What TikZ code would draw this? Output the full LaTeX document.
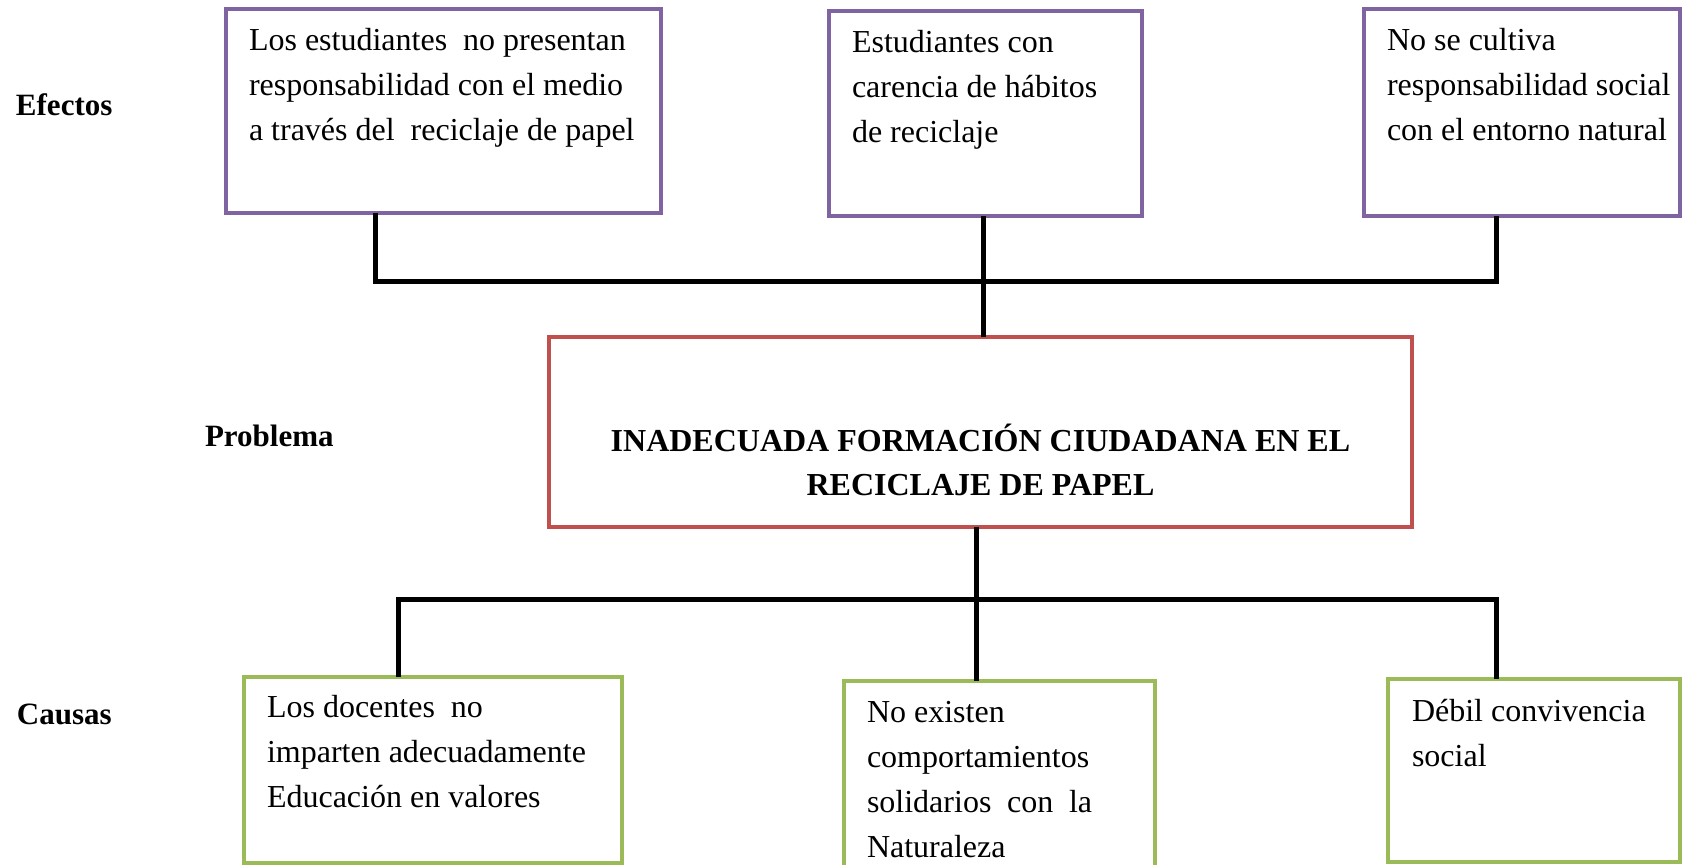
\documentclass[tikz,border=0pt]{standalone}
\usepackage{fontspec}
\setmainfont{Liberation Serif}
\definecolor{effpurple}{HTML}{8064A2}
\definecolor{probred}{HTML}{C0504D}
\definecolor{causegreen}{HTML}{9BBB59}
\newcommand{\btext}[2]{\parbox[t]{#1}{\raggedright #2}}
\begin{document}
\begin{tikzpicture}[x=0.5pt,y=-0.5pt,
  boxbase/.style={rectangle, line width=2pt, inner sep=0pt, outer sep=0pt, anchor=north west},
  effbox/.style={boxbase, draw=effpurple},
  probbox/.style={boxbase, draw=probred},
  causebox/.style={boxbase, draw=causegreen},
  boxtext/.style={anchor=base west, inner sep=0pt, outer sep=0pt, font=\fontsize{16}{22.5}\selectfont},
  probtext/.style={anchor=base, inner sep=0pt, outer sep=0pt, font=\fontsize{16}{22}\selectfont\bfseries},
  sidelabel/.style={anchor=base west, inner sep=0pt, outer sep=0pt, font=\fontsize{15.5}{18}\selectfont\bfseries},
  conn/.style={line width=2.5pt, black, line join=miter}
]
\useasboundingbox (0,0) rectangle (1682,865);

% boxes
\node[effbox, minimum width=217.5pt, minimum height=102pt] (b1) at (226,9) {};
\node[effbox, minimum width=156.5pt, minimum height=102.5pt] (b2) at (829,11) {};
\node[effbox, minimum width=158pt, minimum height=103.5pt] (b3) at (1364,9) {};
\node[probbox, minimum width=431.5pt, minimum height=95pt] (prob) at (549,337) {};
\node[causebox, minimum width=189pt, minimum height=93pt] (c1) at (244,677) {};
\node[causebox, minimum width=155.5pt, minimum height=96pt] (c2) at (844,681) {};
\node[causebox, minimum width=146pt, minimum height=91.5pt] (c3) at (1388,679) {};

% texts
\node[boxtext] (tb1) at (249,51) {\btext{205pt}{Los estudiantes\ \ no presentan\\responsabilidad con el medio\\a través del\ \ reciclaje de papel}};
\node[boxtext] (tb2) at (852,53) {\btext{140pt}{Estudiantes con\\carencia de hábitos\\de reciclaje}};
\node[boxtext] (tb3) at (1387,51) {\btext{146pt}{No se cultiva\\responsabilidad social\\con el entorno natural}};
\node[probtext] (tp) at (980.5,452) {\parbox[t]{420pt}{\centering INADECUADA FORMACIÓN CIUDADANA EN EL\\RECICLAJE DE PAPEL}};
\node[boxtext] (tc1) at (267,718) {\btext{175pt}{Los docentes\ \ no\\imparten adecuadamente\\Educación en valores}};
\node[boxtext] (tc2) at (867,723) {\btext{140pt}{No existen\\comportamientos\\solidarios\hspace{0.49em}con\hspace{0.49em}la\\Naturaleza}};
\node[boxtext] (tc3) at (1412,722) {\btext{130pt}{Débil convivencia\\social}};

% side labels
\node[sidelabel] (lef) at (16,116) {Efectos};
\node[sidelabel] (lpr) at (205,447) {Problema};
\node[sidelabel] (lca) at (17,725) {Causas};

% connectors
\coordinate (t1) at (375,282);
\coordinate (t2) at (983,282);
\coordinate (t3) at (1496,282);
\coordinate (u1) at (398,600);
\coordinate (u2) at (976,600);
\coordinate (u3) at (1496,600);
\draw[conn] (b1.south -| t1) -- (t1) -- (t3) -- (b3.south -| t3);
\draw[conn] (b2.south -| t2) -- (prob.north -| t2);
\draw[conn] (c1.north -| u1) -- (u1) -- (u3) -- (c3.north -| u3);
\draw[conn] (prob.south -| u2) -- (c2.north -| u2);
\end{tikzpicture}
\end{document}
